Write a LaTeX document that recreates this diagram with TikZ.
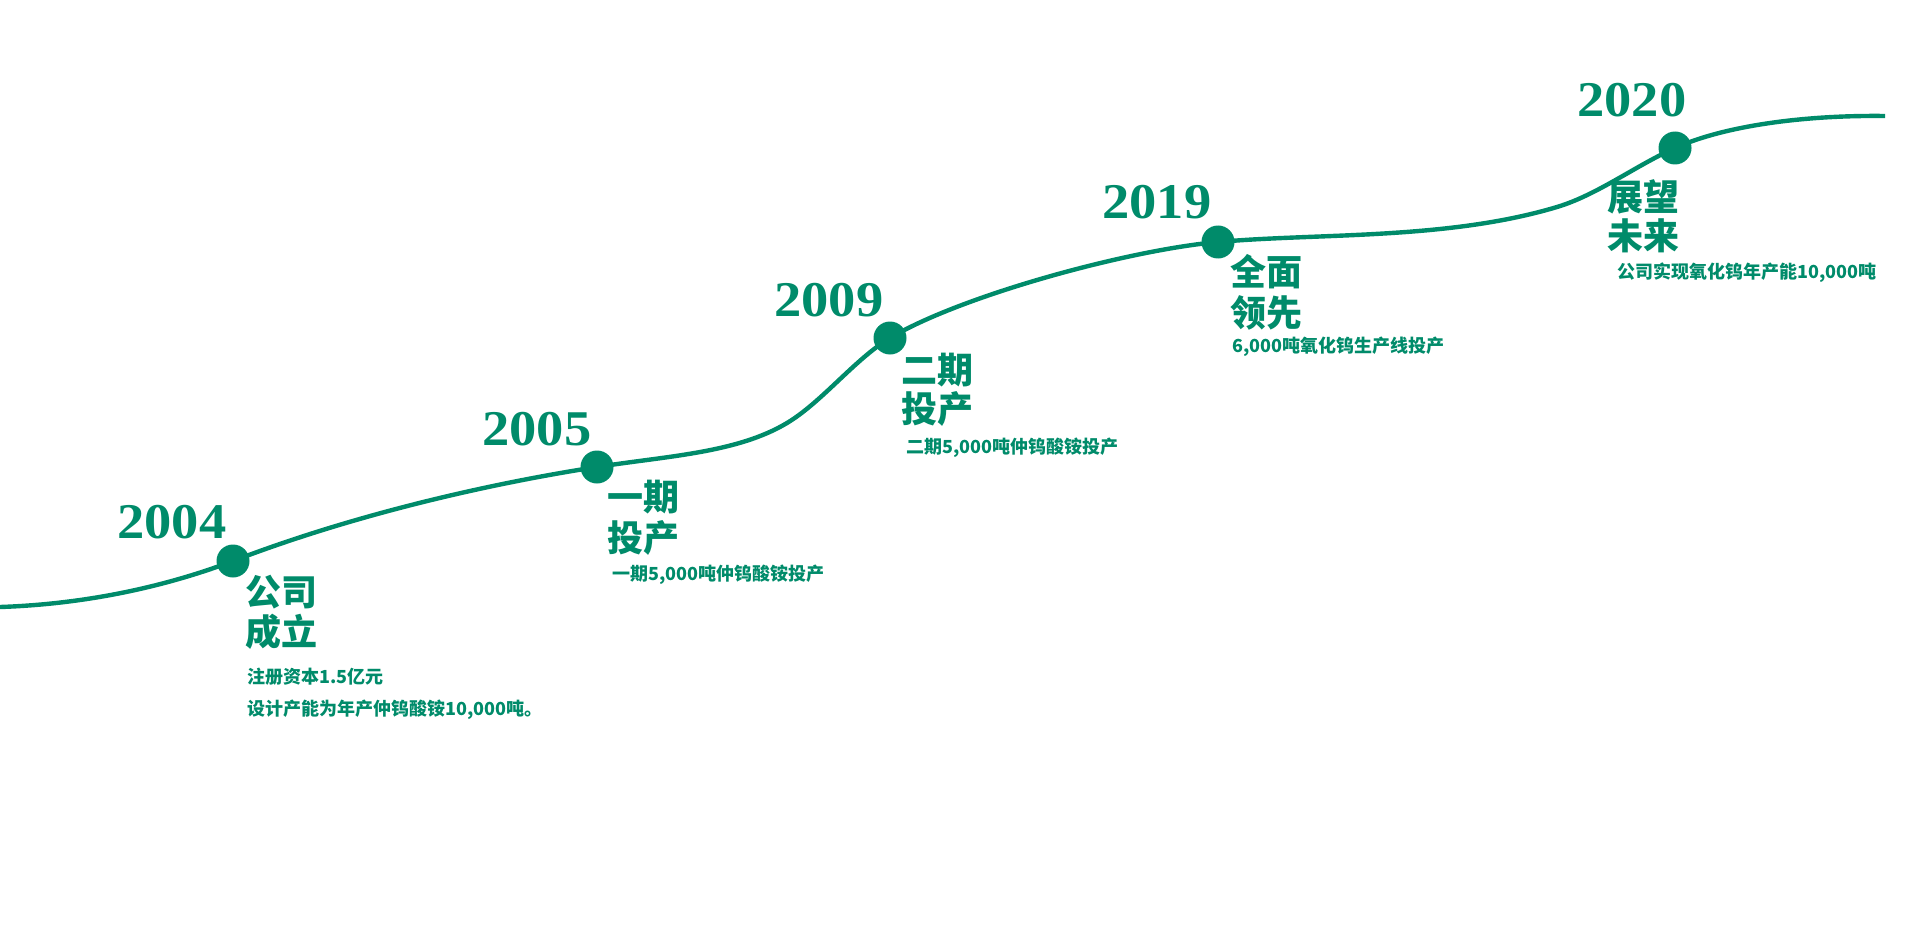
\documentclass[tikz,border=0pt]{standalone}
\usepackage{fontspec}
\setmainfont{Liberation Serif}
\newfontfamily\yearfont{Liberation Serif}[FakeStretch=1.09]
\newfontfamily\cjk{Noto Sans CJK SC}
\definecolor{tgreen}{RGB}{0,139,106}
\pgfdeclarelayer{bg}
\pgfsetlayers{bg,main}
\begin{document}
\begin{tikzpicture}[x=0.5pt,y=-0.5pt,
  dot/.style={circle,fill=tgreen,draw=none,minimum size=16.5pt,inner sep=0pt},
  year/.style={anchor=base west,inner sep=0pt,text=tgreen,font=\yearfont\bfseries\fontsize{25}{25}\selectfont},
  head/.style={anchor=west,inner sep=0pt,text=tgreen,font=\cjk\bfseries\fontsize{18}{18}\selectfont},
  sub/.style={anchor=west,inner sep=0pt,text=tgreen,font=\cjk\bfseries\fontsize{9}{9}\selectfont},
  curve/.style={draw=tgreen,line width=2.2pt}]
\useasboundingbox (0,0) rectangle (1920,936);
\coordinate (start) at (0,607);
\coordinate (p1) at (787,423);
\coordinate (p2) at (1557,207);
\coordinate (finish) at (1885,116);
\node[dot] (d1) at (233,561) {};
\node[dot] (d2) at (597,467) {};
\node[dot] (d3) at (890,338) {};
\node[dot] (d4) at (1218,242) {};
\node[dot] (d5) at (1675,148) {};
\begin{pgfonlayer}{bg}
\draw[curve] (start) .. controls (90,604) and (170,585) .. (d1.center)
  .. controls (353,515) and (487,484) .. (d2.center)
  .. controls (667,456) and (737,453) .. (p1)
  .. controls (822,402) and (855,359) .. (d3.center)
  .. controls (960,296) and (1128,250) .. (d4.center)
  .. controls (1318,233) and (1447,240) .. (p2)
  .. controls (1597,195) and (1635,166) .. (d5.center)
  .. controls (1725,125.5) and (1805,115) .. (finish);
\end{pgfonlayer}
% years
\node[year] (y1) at (117,538) {2004};
\node[year] (y2) at (482,445) {2005};
\node[year] (y3) at (774,316) {2009};
\node[year] (y4) at (1102,219) {2019};
\node[year] (y5) at (1577,117) {2020};
% headings
\node[head] (h1a) at (245,592) {公司};
\node[head] (h1b) at (245,632) {成立};
\node[head] (h2a) at (607,497) {一期};
\node[head] (h2b) at (607,538) {投产};
\node[head] (h3a) at (901,370) {二期};
\node[head] (h3b) at (901,409) {投产};
\node[head] (h4a) at (1230,272) {全面};
\node[head] (h4b) at (1230,313) {领先};
\node[head] (h5a) at (1607,197) {展望};
\node[head] (h5b) at (1607,236) {未来};
% descriptions
\node[sub] (s1a) at (247,677) {注册资本1.5亿元};
\node[sub] (s1b) at (247,710) {设计产能为年产仲钨酸铵10,000吨。};
\node[sub] (s2) at (612,575) {一期5,000吨仲钨酸铵投产};
\node[sub] (s3) at (906,448) {二期5,000吨仲钨酸铵投产};
\node[sub] (s4) at (1232,347) {6,000吨氧化钨生产线投产};
\node[sub] (s5) at (1617,273) {公司实现氧化钨年产能10,000吨};
\end{tikzpicture}
\end{document}
